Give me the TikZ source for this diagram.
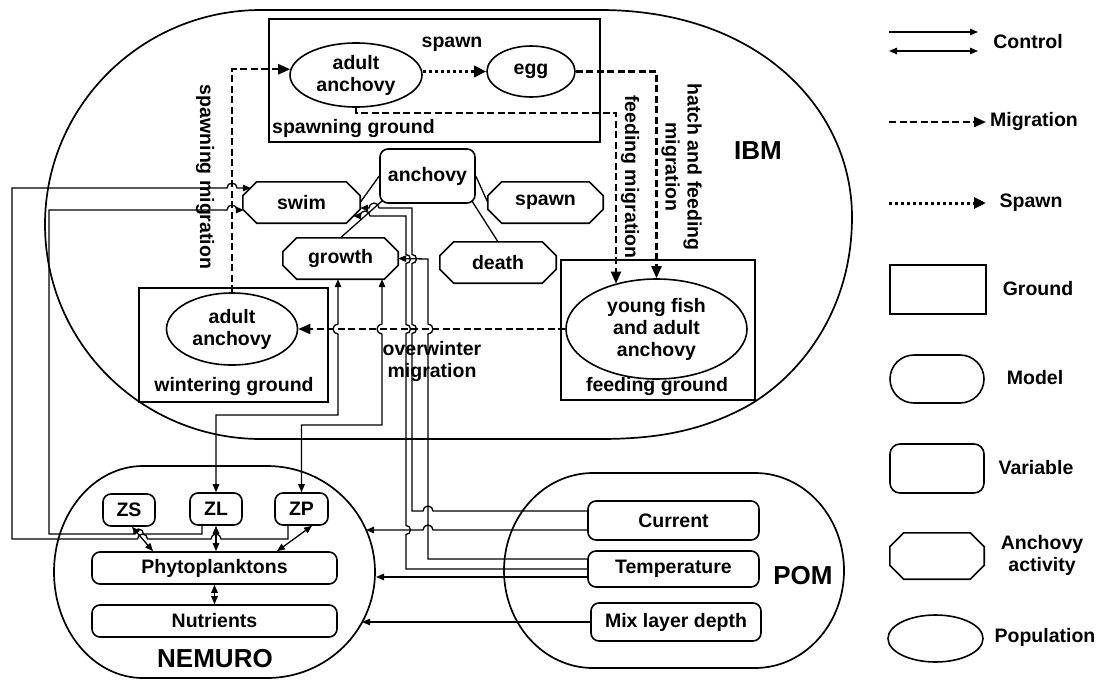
\documentclass[tikz,border=0pt]{standalone}
\usepackage{fontspec}
\setmainfont{Liberation Sans}
\usetikzlibrary{arrows.meta,shapes.geometric}
\begin{document}
\begin{tikzpicture}[x=1pt,y=-1pt,
  every node/.style={font=\bfseries\fontsize{19.5}{22}\selectfont, inner sep=0pt},
  pop/.style={draw, ellipse, line width=1.6pt},
  grd/.style={draw, rectangle, line width=1.6pt},
  var/.style={draw, rectangle, rounded corners=8pt, line width=1.6pt},
  act/.style={rectangle},
  big/.style={font=\bfseries\fontsize{26}{30}\selectfont},
  plain/.style={line width=1.3pt},
  ctl/.style={line width=1.3pt, -{Triangle[length=8pt,width=6.5pt]}},
  ctlb/.style={line width=1.3pt, {Triangle[length=8pt,width=6.5pt]}-{Triangle[length=8pt,width=6.5pt]}},
  mig/.style={line width=2.2pt, dash pattern=on 7pt off 3.5pt, -{Triangle[length=12pt,width=10pt]}},
  spw/.style={line width=3pt, dash pattern=on 3pt off 3pt, -{Triangle[length=12pt,width=11pt]}},
  model/.style={line width=1.7pt}]
\useasboundingbox (0,0) rectangle (1103,680);

% model boundaries
\draw[model] (261,10) -- (600,10) .. controls (760,10) and (852,110) .. (852,217)
  .. controls (852,320) and (790,385) .. (740,410) .. controls (700,430) and (660,439) .. (600,439)
  -- (261,439) arc[start angle=270,end angle=90,x radius=216pt,y radius=214.5pt] -- cycle;
\draw[model] (143,466) -- (267,466) arc[start angle=90,end angle=-90,x radius=108pt,y radius=106pt]
  -- (143,678) arc[start angle=270,end angle=90,x radius=89pt,y radius=106pt] -- cycle;
\draw[model] (593,473) -- (755,473) arc[start angle=90,end angle=-90,x radius=89pt,y radius=97.5pt]
  -- (593,668) arc[start angle=270,end angle=90,x radius=89pt,y radius=97.5pt] -- cycle;
\node[big, anchor=base] (ibm) at (758,159) {IBM};
\node[big, anchor=base] (nemuro) at (215,667) {NEMURO};
\node[big, anchor=base] (pom) at (803,584) {POM};

% grounds
\node[grd, minimum width=331pt, minimum height=123pt] (sg) at (434.5,80.5) {};
\node[anchor=base west] (sgl) at (272,133) {spawning ground};
\node[pop, minimum width=132pt, minimum height=64pt, align=center] (aa1) at (356,75) {adult\\anchovy};
\node[pop, minimum width=88pt, minimum height=51pt] (egg) at (531,71.5) {egg};
\node[anchor=base] (spl) at (452,47) {spawn};

\node[grd, minimum width=189pt, minimum height=114pt] (wg) at (233.5,345) {};
\node[pop, minimum width=131pt, minimum height=72pt, align=center] (wad) at (232,329) {adult\\anchovy};
\node[anchor=base] (wgl) at (234,391) {wintering ground};

\node[grd, minimum width=194pt, minimum height=140pt] (fg) at (658,330) {};
\node[pop, minimum width=181pt, minimum height=100pt, align=center] (feed) at (656.5,329) {young fish\\and adult\\anchovy};
\node[anchor=base] (fgl) at (657,391) {feeding ground};

% anchovy and activities
\node[var, minimum width=95pt, minimum height=54pt] (anch) at (427.5,176) {anchovy};
\node[act, minimum width=117pt, minimum height=41pt] (swim) at (301.5,202.5) {swim};
\node[act, minimum width=115pt, minimum height=41pt] (spawnact) at (545.5,202.5) {spawn};
\node[act, minimum width=115pt, minimum height=41pt] (growth) at (340.5,258.5) {growth};
\node[act, minimum width=116pt, minimum height=41pt] (death) at (498,262.5) {death};

% NEMURO variables
\node[var, minimum width=52pt, minimum height=32pt] (ZS) at (129,510) {ZS};
\node[var, minimum width=52pt, minimum height=32pt] (ZL) at (216,509) {ZL};
\node[var, minimum width=53pt, minimum height=32pt] (ZP) at (301.5,509) {ZP};
\node[var, minimum width=245pt, minimum height=32pt] (phy) at (214.5,568) {Phytoplanktons};
\node[var, minimum width=245pt, minimum height=32pt] (nut) at (214.5,621) {Nutrients};

% POM variables
\node[var, minimum width=171pt, minimum height=39pt] (cur) at (673.5,520.5) {Current};
\node[var, minimum width=171pt, minimum height=36pt] (temp) at (673.5,569) {Temperature};
\node[var, minimum width=170pt, minimum height=38pt] (mix) at (676,622) {Mix layer depth};

% legend shapes
\node[grd, minimum width=96pt, minimum height=49pt] (lgg) at (938,289.5) {};
\node[draw, line width=1.6pt, rounded corners=24pt, minimum width=94pt, minimum height=48pt] (lgm) at (937,379) {};
\node[var, rounded corners=10pt, minimum width=94pt, minimum height=49pt] (lgv) at (937,468.5) {};
\node[act, minimum width=94pt, minimum height=46pt] (lga) at (937,556) {};
\node[pop, minimum width=95pt, minimum height=47pt] (lgp) at (935.5,638.5) {};

\foreach \n in {swim,spawnact,growth,death,lga} {
  \draw[line width=1.6pt] ([xshift=14pt]\n.north west) -- ([xshift=-14pt]\n.north east)
    -- ([yshift=-14pt]\n.north east) -- ([yshift=14pt]\n.south east)
    -- ([xshift=-14pt]\n.south east) -- ([xshift=14pt]\n.south west)
    -- ([yshift=14pt]\n.south west) -- ([yshift=-14pt]\n.north west) -- cycle;
}

% legend texts
\node (tC) at (1028,42) {Control};
\node (tMi) at (1034,121) {Migration};
\node (tSp) at (1031,203) {Spawn};
\node (tG) at (1038,289) {Ground};
\node (tMo) at (1035,378) {Model};
\node (tV) at (1036,468) {Variable};
\node[align=center] (tA) at (1042,555) {Anchovy\\activity};
\node (tP) at (1045,637) {Population};

% legend lines
\coordinate (l1a) at (889,32); \coordinate (l1b) at (978,32);
\coordinate (l2a) at (889,51); \coordinate (l2b) at (978,51);
\coordinate (l3a) at (889,122); \coordinate (l3b) at (986,122);
\coordinate (l4a) at (889,203); \coordinate (l4b) at (986,203);
\draw[ctl] (l1a) -- (l1b);
\draw[ctlb] (l2a) -- (l2b);
\draw[mig] (l3a) -- (l3b);
\draw[spw] (l4a) -- (l4b);

% migration / spawn
\draw[spw] (aa1.east |- egg.west) -- (egg.west);
\draw[mig] (egg.east) -| (feed.north);
\coordinate (fmc) at (616,113);
\draw[mig] (aa1.south) |- (fmc) -- (fmc |- feed.132);
\draw[mig] (feed.west) -- (wad.east);
\draw[mig] (wad.north) |- (aa1.175);

\node[rotate=-90] (lsm) at (205,177) {spawning migration};
\node[rotate=-90] (lfm) at (630,177) {feeding migration};
\node[rotate=-90, align=center] (lhf) at (681.5,167) {hatch and feeding\\migration};
\node[align=center] (low) at (432,361) {overwinter\\migration};

% anchovy to activities
\draw[plain] (anch.west) -- (swim.east);
\draw[plain] ([shift={(3,-3)}]anch.south west) -- (growth.north);
\draw[plain] (anch.east) -- (spawnact.west);
\draw[plain] ([shift={(-4,-3)}]anch.south east) -- (death.north);

% POM controls
\draw[ctl] ([yshift=10pt]temp.west) -- (428,559) -- (428,334) arc[start angle=-90,end angle=90,radius=5pt]
  -- (428,259) -- (growth.east);
\coordinate (kC) at (412,208);
\draw[ctl] ([yshift=9.5pt]cur.west) -- (433,511) arc[start angle=0,end angle=180,radius=5pt] -- (412,511)
  -- (412,333.5) arc[start angle=-90,end angle=90,radius=4.5pt]
  -- (412,263.5) arc[start angle=-90,end angle=90,radius=4.5pt]
  -- (kC) -- (379,208) arc[start angle=0,end angle=180,radius=5pt] -- (swim.east |- kC);
\draw[ctl] (temp.west) -- (406,569) -- (406,534.5) arc[start angle=-90,end angle=90,radius=4.5pt]
  -- (406,333.5) arc[start angle=-90,end angle=90,radius=4.5pt]
  -- (406,263.5) arc[start angle=-90,end angle=90,radius=4.5pt]
  -- (406,216) -- (370,216) arc[start angle=0,end angle=180,radius=5pt] -- ([shift={(-7,13.5)}]swim.east);
\coordinate (nC) at (366,530);
\coordinate (nT) at (376,577);
\coordinate (nM) at (362,622);
\draw[ctl] ([yshift=-9.5pt]cur.west) -- (433,530) arc[start angle=0,end angle=180,radius=5pt] -- (nC);
\draw[ctl] ([yshift=-8pt]temp.west) -- (nT);
\draw[ctl] (mix.west) -- (nM);

% growth <-> zooplankton
\draw[ctlb] ([xshift=-2.5pt]growth.south) -- (338,324) arc[start angle=90,end angle=270,radius=5pt]
  -- (338,415) -- (216,415) -- (ZL.north);
\coordinate (kP) at (382,425);
\draw[ctlb] ([xshift=41.5pt]growth.south) -- (382,324) arc[start angle=90,end angle=270,radius=5pt]
  -- (kP) -- (kP -| ZP.north) -- (ZP.north);

% zooplankton to swim
\draw[ctl] ([xshift=-13.5pt]ZP.south) -- (288,539) -- (221,539) arc[start angle=0,end angle=180,radius=5pt]
  -- (147.5,539) arc[start angle=0,end angle=180,radius=5pt] -- (12,539) -- (12,188)
  -- (227,188) arc[start angle=180,end angle=0,radius=5pt] -- ([shift={(8,-14.5)}]swim.west);
\draw[ctl] ([xshift=-14pt]ZL.south) -- (202,534) -- (143.5,534) arc[start angle=0,end angle=180,radius=5pt]
  -- (49,534) -- (49,210)
  -- (227,210) arc[start angle=180,end angle=0,radius=5pt] -- ([shift={(1,7.5)}]swim.west);

% NEMURO internal
\draw[ctlb] ([xshift=3pt]ZS.south) -- ([xshift=-61.5pt]phy.north);
\draw[ctlb] (ZL.south) -- (ZL.south |- phy.north);
\draw[ctlb] ([xshift=10.5pt]ZP.south) -- ([xshift=62.5pt]phy.north);
\draw[ctlb] (phy.south) -- (nut.north);
\end{tikzpicture}
\end{document}
